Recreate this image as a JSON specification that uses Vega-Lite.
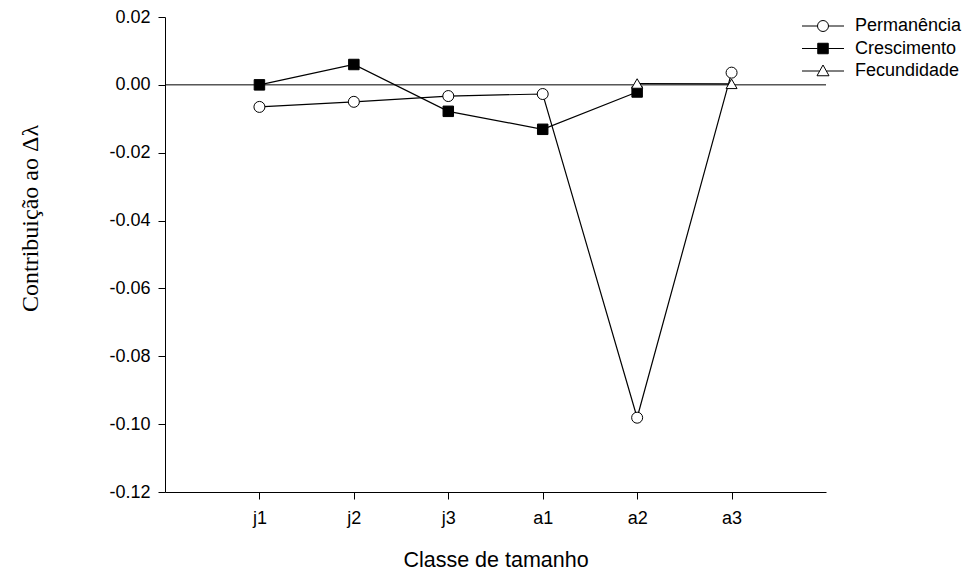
{
  "$schema": "https://vega.github.io/schema/vega-lite/v6.json",
  "width": 661,
  "height": 475,
  "autosize": "none",
  "padding": {"left": 165, "top": 17, "right": 141, "bottom": 81},
  "background": "white",
  "config": {
    "view": {"stroke": null},
    "font": "Liberation Sans",
    "axis": {
      "grid": false,
      "domainColor": "black",
      "tickColor": "black",
      "labelColor": "black",
      "titleColor": "black",
      "labelFont": "Liberation Sans",
      "labelFontSize": 18,
      "tickSize": 7,
      "domainWidth": 1,
      "tickWidth": 1
    },
    "legend": {"labelFont": "Liberation Sans", "labelFontSize": 18, "labelColor": "black"}
  },
  "data": {
    "values": [
      {"classe": "j1", "serie": "Permanência", "valor": -0.0065},
      {"classe": "j2", "serie": "Permanência", "valor": -0.005},
      {"classe": "j3", "serie": "Permanência", "valor": -0.0033},
      {"classe": "a1", "serie": "Permanência", "valor": -0.0027},
      {"classe": "a2", "serie": "Permanência", "valor": -0.0981},
      {"classe": "a3", "serie": "Permanência", "valor": 0.0036},
      {"classe": "j1", "serie": "Crescimento", "valor": 0.0},
      {"classe": "j2", "serie": "Crescimento", "valor": 0.006},
      {"classe": "j3", "serie": "Crescimento", "valor": -0.0078},
      {"classe": "a1", "serie": "Crescimento", "valor": -0.0131},
      {"classe": "a2", "serie": "Crescimento", "valor": -0.0021},
      {"classe": "a2", "serie": "Fecundidade", "valor": 0.0004},
      {"classe": "a3", "serie": "Fecundidade", "valor": 0.0003}
    ]
  },
  "encoding": {
    "x": {
      "field": "classe",
      "type": "ordinal",
      "sort": ["j1", "j2", "j3", "a1", "a2", "a3"],
      "scale": {"type": "point", "domain": ["j1", "j2", "j3", "a1", "a2", "a3"], "padding": 1},
      "axis": {"title": "Classe de tamanho", "labelAngle": 0, "labelPadding": 10, "titleFontSize": 21.5, "titleFontWeight": "normal", "titlePadding": 22}
    },
    "y": {
      "field": "valor",
      "type": "quantitative",
      "scale": {"domain": [-0.12, 0.02], "nice": false, "zero": false},
      "axis": {
        "values": [-0.12, -0.1, -0.08, -0.06, -0.04, -0.02, 0, 0.02],
        "format": ".2f",
        "labelExpr": "replace(datum.label, '\u2212', '-')",
        "labelPadding": 8,
        "title": "Contribuição ao Δλ",
        "titleFont": "Liberation Serif",
        "titleFontSize": 24,
        "titleFontWeight": "normal",
        "titleX": -123,
        "titleY": 201
      }
    }
  },
  "layer": [
    {
      "data": {"values": [{"ref": 0}]},
      "mark": {"type": "rule", "color": "black", "strokeWidth": 1},
      "encoding": {"x": null, "y": {"field": "ref", "type": "quantitative"}}
    },
    {
      "mark": {"type": "line", "color": "black", "strokeWidth": 1.2},
      "encoding": {"detail": {"field": "serie"}}
    },
    {
      "mark": {"type": "point", "filled": true, "stroke": "black", "strokeWidth": 1, "opacity": 0, "size": 100},
      "encoding": {
        "shape": {
          "field": "serie",
          "type": "nominal",
          "scale": {
            "domain": ["Permanência", "Crescimento", "Fecundidade"],
            "range": [
              "M-4.2,0L-1.1,0M1.1,0L4.2,0M1.1,0C1.1,0.6075 0.6075,1.1 0,1.1C-0.6075,1.1 -1.1,0.6075 -1.1,0C-1.1,-0.6075 -0.6075,-1.1 0,-1.1C0.6075,-1.1 1.1,-0.6075 1.1,0Z",
              "M-4.2,0L-1.05,0M1.05,0L4.2,0M-1.05,-1.05L1.05,-1.05L1.05,1.05L-1.05,1.05Z",
              "M-4.2,0L-0.67,0M0.67,0L4.2,0M0,-1.2L1.2,0.95L-1.2,0.95Z"
            ]
          },
          "legend": {
            "title": null,
            "orient": "none",
            "legendX": 649,
            "legendY": 0,
            "padding": 0,
            "symbolSize": 100,
            "symbolStrokeColor": "black",
            "symbolStrokeWidth": 1,
            "symbolOpacity": 1,
            "labelOffset": 23,
            "rowPadding": 4.5,
            "encoding": {
              "symbols": {
                "stroke": {"value": "black"},
                "strokeWidth": {"value": 1},
                "opacity": {"value": 1}
              }
            }
          }
        },
        "fill": {
          "field": "serie",
          "type": "nominal",
          "scale": {"domain": ["Permanência", "Crescimento", "Fecundidade"], "range": ["white", "black", "white"]}
        }
      }
    },
    {
      "transform": [{"filter": "datum.serie === 'Crescimento'"}],
      "mark": {"type": "point", "shape": "square", "filled": true, "fill": "black", "stroke": "black", "strokeWidth": 1, "opacity": 1, "size": 110}
    },
    {
      "transform": [{"filter": "datum.serie === 'Permanência'"}],
      "mark": {"type": "point", "shape": "circle", "filled": true, "fill": "white", "stroke": "black", "strokeWidth": 1, "opacity": 1, "size": 121}
    },
    {
      "transform": [{"filter": "datum.serie === 'Fecundidade'"}],
      "mark": {"type": "point", "shape": "triangle-up", "filled": true, "fill": "white", "stroke": "black", "strokeWidth": 1, "opacity": 1, "size": 120}
    }
  ]
}
